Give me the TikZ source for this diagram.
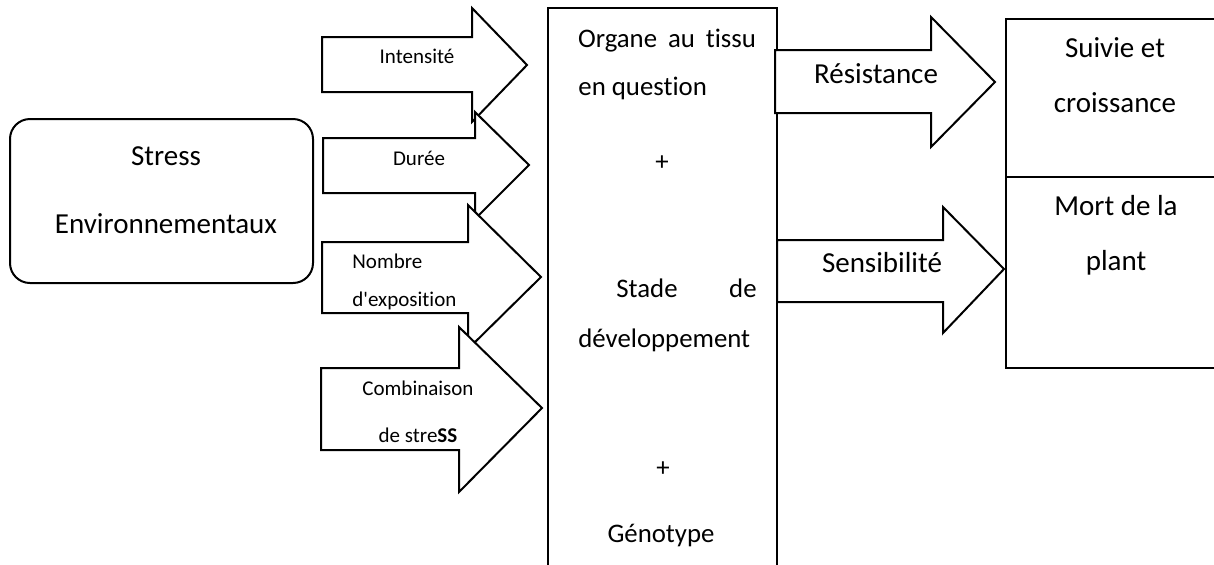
\documentclass[tikz,border=0pt]{standalone}
\usepackage{fontspec}
\setmainfont{Carlito}[Ligatures={TeXOff,NoCommon}]
\begin{document}
\begin{tikzpicture}[x=0.5pt,y=-0.5pt,
  shp/.style={draw=black,line width=1pt,fill=white,line join=miter},
  big/.style={font=\fontsize{14.5}{17}\selectfont,inner sep=0pt,anchor=base},
  mid/.style={font=\fontsize{13.4}{16}\selectfont,inner sep=0pt,anchor=base},
  small/.style={font=\fontsize{10.5}{12}\selectfont,inner sep=0pt,anchor=base}]
\clip (0,0) rectangle (1214,564);
% left rounded box
\draw[shp,rounded corners=10pt] (10,119) rectangle (313,283);
\node[big] (stress) at (166,165) {Stress};
\node[big] (env) at (166,233) {Environnementaux};
% middle box
\draw[shp] (548,8) rectangle (777,590);
% left arrows
\draw[shp] (322,37)--(472,37)--(472,8)--(527,65)--(472,122)--(472,92)--(322,92)--cycle;
\draw[shp] (323,138)--(475,138)--(475,112)--(529,165)--(475,219)--(475,193)--(323,193)--cycle;
\draw[shp] (322,242)--(468,242)--(468,205)--(541,277)--(468,349)--(468,313)--(322,313)--cycle;
\draw[shp] (321,368)--(459,368)--(459,327)--(542,408)--(459,492)--(459,450)--(321,450)--cycle;
\node[small] (int) at (417,63) {Intensité};
\node[small] (dur) at (419,165) {Durée};
\node[small,anchor=base west] (nom) at (352,268) {Nombre};
\node[small,anchor=base west] (expo) at (352,306) {d'exposition};
\node[small] (comb) at (418,395) {Combinaison};
\node[small] (destr) at (418,442) {de stre{\bfseries SS}};
% right arrows
\draw[shp] (775,50)--(931,50)--(931,17)--(995,82)--(931,147)--(931,113)--(775,113)--cycle;
\draw[shp] (777,240)--(943,240)--(943,207)--(1004,269)--(943,333)--(943,302)--(777,302)--cycle;
\node[big] (res) at (876,83) {Résistance};
\node[big] (sens) at (882,272) {Sensibilité};
% right boxes
\draw[shp] (1006,19) rectangle (1240,177);
\draw[shp] (1006,177) rectangle (1240,368);
\node[big] (suiv) at (1115,57) {Suivie et};
\node[big] (crois) at (1115,112) {croissance};
\node[big] (mort) at (1116,215) {Mort de la};
\node[big] (plant) at (1116,270) {plant};
% middle text
\node[mid] (org) at (667,47) {\hbox to 89pt{Organe\hfill au\hfill tissu}};
\node[mid,anchor=base west] (quest) at (578,95) {en question};
\node[mid,anchor=center] (plus1) at (662,163) {+};
\node[mid,anchor=base west] (stade) at (616,297) {Stade};
\node[mid,anchor=base east] (de) at (757,297) {de};
\node[mid,anchor=base west] (dev) at (578,347) {développement};
\node[mid,anchor=center] (plus2) at (663,469) {+};
\node[mid] (geno) at (661,542) {Génotype};
\end{tikzpicture}
\end{document}
